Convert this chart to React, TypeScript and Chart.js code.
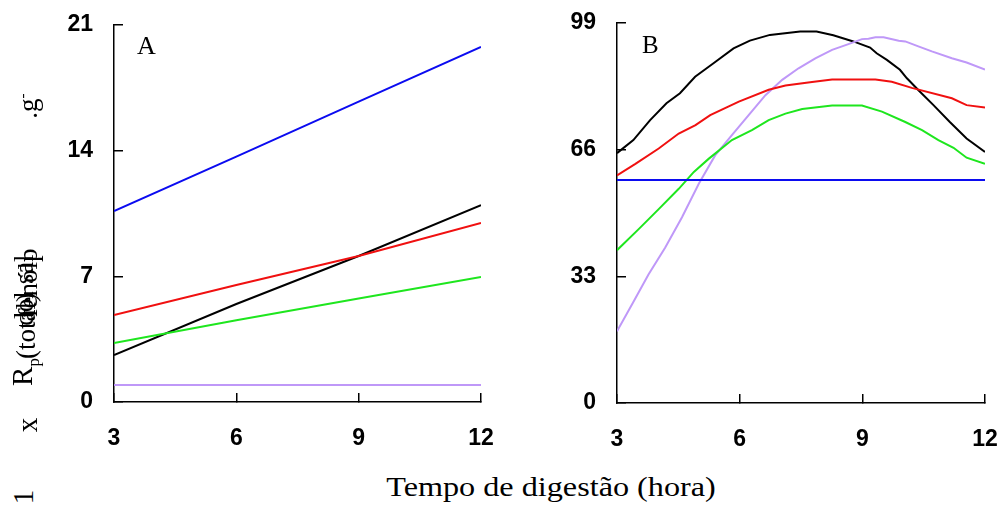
import React, { useEffect, useRef } from "react";
import { Chart, registerables } from "chart.js";

Chart.register(...registerables);

// ---------- Panel A data ----------
const hoursA = [3, 6, 9, 12];
const aBlue = [10.64, 13.67, 16.73, 19.78];
const aBlack = [2.62, 5.46, 8.13, 10.97];
const aRed = [4.85, 6.52, 8.13, 9.97];
const aGreen = [3.29, 4.55, 5.76, 6.96];
const aPurple = [0.95, 0.95, 0.95, 0.95];
const ticksA = [0, 7, 14, 21];

// ---------- Panel B data ----------
const bBlueX = [3, 12];
const bBlueY = [58.1, 58.1];
const bBlackX = [3.0, 3.4, 3.81, 4.21, 4.54, 4.91, 5.36, 5.85, 6.25, 6.74, 7.48, 7.88, 8.29, 8.78, 9.19, 9.35, 9.6, 9.92, 10.09, 10.41, 10.74, 11.14, 11.55, 12.0];
const bBlackY = [65.1, 68.5, 73.7, 78.1, 80.7, 85.0, 88.5, 92.4, 94.4, 95.9, 96.8, 96.8, 95.8, 94.2, 92.6, 91.1, 89.4, 86.8, 84.6, 81.1, 77.6, 73.2, 68.9, 65.4];
const bRedX = [3.0, 3.45, 4.02, 4.51, 4.92, 5.28, 5.98, 6.71, 7.12, 7.77, 8.26, 9.32, 9.72, 10.21, 11.19, 11.55, 12.0];
const bRedY = [59.3, 62.3, 66.3, 70.2, 72.4, 75.0, 78.5, 81.6, 82.7, 83.6, 84.3, 84.3, 83.7, 82.1, 79.4, 77.6, 77.0];
const bGreenX = [3.0, 3.53, 4.02, 4.51, 4.88, 5.24, 5.81, 6.3, 6.71, 7.12, 7.53, 8.26, 8.99, 9.48, 10.05, 10.46, 10.86, 11.23, 11.55, 12.0];
const bGreenY = [39.8, 45.3, 50.5, 55.8, 60.2, 63.6, 68.5, 71.1, 73.7, 75.4, 76.6, 77.5, 77.5, 75.9, 73.2, 71.1, 68.5, 66.5, 63.9, 62.3];
const bPurpleX = [3.0, 3.41, 3.77, 4.18, 4.59, 5.0, 5.4, 5.81, 6.22, 6.63, 7.04, 7.44, 7.85, 8.26, 8.66, 8.99, 9.15, 9.32, 9.52, 9.89, 10.05, 10.37, 10.7, 11.19, 11.55, 12.0];
const bPurpleY = [18.7, 26.5, 33.5, 40.5, 48.4, 57.1, 64.5, 69.8, 75.0, 80.2, 84.2, 87.2, 89.8, 92.0, 93.5, 94.8, 94.9, 95.3, 95.3, 94.4, 94.2, 92.9, 91.6, 89.8, 88.7, 86.9];
const ticksB = [0, 33, 66, 99];

const xTicks = [3, 6, 9, 12];

const BLUE = "#0b0bf0";
const RED = "#f01010";
const GREEN = "#1ee61e";
const BLACK = "#000000";
const PURPLE = "#bf98f8";

const pts = (xs: number[], ys: number[]) => xs.map((x, i) => ({ x, y: ys[i] }));

function ds(data: { x: number; y: number }[], color: string) {
  return {
    data,
    borderColor: color,
    backgroundColor: color,
    borderWidth: 2,
    pointRadius: 0,
    tension: 0,
    fill: false,
  };
}

// frame: canvas-relative layout of the plotting area
function makeOptions(yMax: number, yTicks: number[], frame: { yWidth: number; xHeight: number; top: number; right: number }) {
  const tickFont = { family: "'Liberation Sans', Arial, sans-serif", size: 23, weight: "bold" as const };
  return {
    animation: false as const,
    responsive: false,
    maintainAspectRatio: false,
    layout: { padding: 0 },
    plugins: { legend: { display: false }, tooltip: { enabled: false } },
    scales: {
      x: {
        type: "linear" as const,
        min: 3,
        max: 12,
        afterBuildTicks: (s: any) => {
          s.ticks = xTicks.map((v) => ({ value: v }));
        },
        afterFit: (s: any) => {
          s.height = frame.xHeight;
          s.paddingLeft = 0;
          s.paddingRight = frame.right;
          s.paddingTop = 0;
          s.paddingBottom = 0;
        },
        ticks: { color: "#000", font: tickFont, padding: 32, maxRotation: 0 },
        grid: { drawOnChartArea: false, drawTicks: true, tickLength: -9, color: "#000", lineWidth: 1.5 },
        border: { display: true, color: "#000", width: 1.5 },
      },
      y: {
        type: "linear" as const,
        min: 0,
        max: yMax,
        afterBuildTicks: (s: any) => {
          s.ticks = yTicks.map((v) => ({ value: v }));
        },
        afterFit: (s: any) => {
          s.width = frame.yWidth;
          s.paddingTop = frame.top;
          s.paddingBottom = 0;
          s.paddingLeft = 0;
          s.paddingRight = 0;
        },
        ticks: { color: "#000", font: tickFont, padding: 30 },
        grid: { drawOnChartArea: false, drawTicks: true, tickLength: -9, color: "#000", lineWidth: 1.5 },
        border: { display: true, color: "#000", width: 1.5 },
      },
    },
  };
}

export default function App() {
  const refA = useRef<HTMLCanvasElement>(null);
  const refB = useRef<HTMLCanvasElement>(null);

  useEffect(() => {
    const chartA = new Chart(refA.current!, {
      type: "line",
      data: {
        datasets: [
          ds(pts(hoursA, aPurple), PURPLE),
          ds(pts(hoursA, aGreen), GREEN),
          ds(pts(hoursA, aRed), RED),
          ds(pts(hoursA, aBlack), BLACK),
          ds(pts(hoursA, aBlue), BLUE),
        ],
      },
      options: makeOptions(21, ticksA, { yWidth: 114, xHeight: 68, top: 25, right: 19 }) as any,
    });
    const chartB = new Chart(refB.current!, {
      type: "line",
      data: {
        datasets: [
          ds(pts(bBlueX, bBlueY), BLUE),
          ds(pts(bGreenX, bGreenY), GREEN),
          ds(pts(bRedX, bRedY), RED),
          ds(pts(bPurpleX, bPurpleY), PURPLE),
          ds(pts(bBlackX, bBlackY), BLACK),
        ],
      },
      options: makeOptions(99, ticksB, { yWidth: 117, xHeight: 67, top: 23, right: 12 }) as any,
    });
    return () => {
      chartA.destroy();
      chartB.destroy();
    };
  }, []);

  const serif = "'Liberation Serif', 'Times New Roman', serif";
  const rot = (x: number, y: number, size: number): React.CSSProperties => ({
    position: "absolute",
    left: x,
    top: y,
    transform: "translate(-50%, -50%) rotate(-90deg)",
    fontFamily: serif,
    fontSize: size,
    whiteSpace: "nowrap",
    color: "#000",
    lineHeight: 1,
  });

  return (
    <div style={{ position: "fixed", left: 0, top: 0, width: 997, height: 508, background: "#fff", overflow: "hidden" }}>
      <canvas ref={refA} width={500} height={470} style={{ position: "absolute", left: 0, top: 0 }} />
      <canvas ref={refB} width={497} height={470} style={{ position: "absolute", left: 500, top: 0 }} />
      <div style={{ position: "absolute", left: 137, top: 33, fontFamily: serif, fontSize: 26, color: "#000", lineHeight: 1 }}>A</div>
      <div style={{ position: "absolute", left: 642, top: 32, fontFamily: serif, fontSize: 25, color: "#000", lineHeight: 1 }}>B</div>
      <div
        style={{
          position: "absolute",
          left: 551,
          top: 473,
          transform: "translateX(-50%) scaleX(1.15)",
          fontFamily: serif,
          fontSize: 28,
          color: "#000",
          lineHeight: 1,
          whiteSpace: "nowrap",
        }}
      >
        Tempo de digestão (hora)
      </div>
      {/* overlapping, garbled y-axis title as in the reference */}
      <div style={rot(23, 497, 29)}>1</div>
      <div style={rot(27, 425, 29)}>x</div>
      <div style={rot(25, 372, 29)}>
        R<sub style={{ fontSize: 17 }}>p</sub>
      </div>
      <div style={rot(26, 326, 27)}>(total)</div>
      <div style={rot(24, 290, 27)}>dol sal</div>
      <div style={rot(28, 283, 27)}>fenólp</div>
      <div style={rot(28, 106, 27)}>
        .g<sup style={{ fontSize: 15 }}>-</sup>
      </div>
    </div>
  );
}
